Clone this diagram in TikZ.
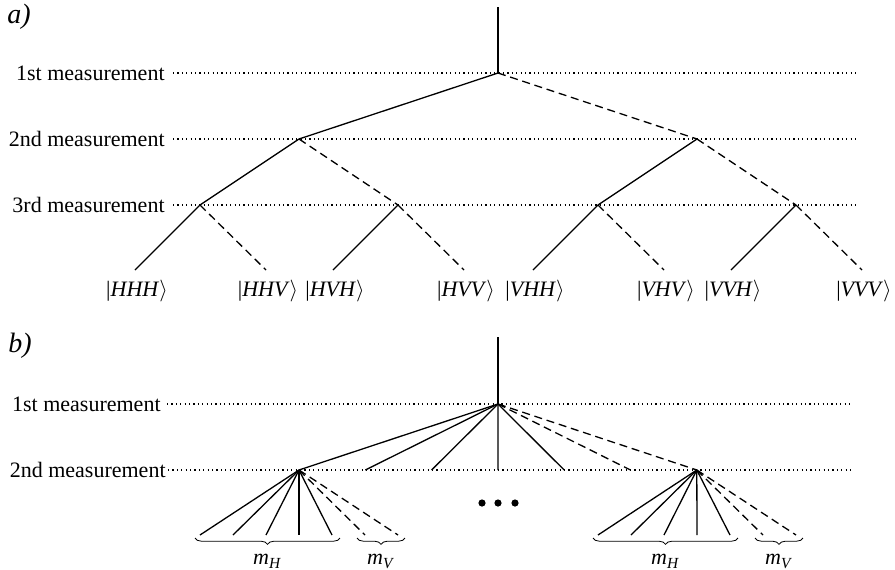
\documentclass[tikz,border=0pt]{standalone}
\usepackage{fontspec}
\setmainfont{Liberation Serif}
\usepackage{tikz}
\usetikzlibrary{positioning,decorations.pathreplacing}
\tikzset{
  lvl/.style={font=\fontsize{11}{13}\selectfont,anchor=east,inner sep=0pt},
  ket/.style={font=\fontsize{11}{13}\selectfont,inner sep=0pt},
  tag/.style={font=\fontsize{14}{16}\selectfont\itshape,anchor=west,inner sep=0pt},
  guide/.style={line width=0.6pt,dash pattern=on 0.6pt off 1.6pt},
  hpath/.style={line width=0.65pt},
  vpath/.style={line width=0.65pt,dash pattern=on 4pt off 2.4pt},
  grp/.style={decorate,decoration={brace,mirror,amplitude=3.2pt},line width=0.4pt}
}

\begin{document}
\begin{tikzpicture}[x=0.5pt,y=-0.5pt]
  \useasboundingbox (0,0) rectangle (895,569);
  % a)
  \node[tag] (pa) at (7,17) {a)};
  \foreach \i/\lab/\y/\gap in {1/1st/73/4pt,2/2nd/139/4pt,3/3rd/205/4pt} {
    \node[lvl] (a\i) at (165,\y) {\lab{} measurement};
    \coordinate (a\i e) at (859,\y);
    \draw[guide] ([xshift=\gap]a\i.east) -- (a\i e);
  }
  \coordinate (r) at (498,7);
  \coordinate (n) at (498,73);
  \coordinate (nH) at (299,139);
  \coordinate (nV) at (697,139);
  \draw[hpath] (r) -- (n);
  \draw[hpath] (n) -- (nH);
  \draw[vpath] (n) -- (nV);
  \foreach \p/\x in {HH/200,HV/398,VH/598,VV/796} {
    \coordinate (n\p) at (\x,205);
    \coordinate (l\p H) at (\x-65,270);
    \coordinate (l\p V) at (\x+66,270);
    \node[ket,below=5pt of l\p H,xshift=1pt] (k\p H) {|\textit{\p H}$\rangle$};
    \node[ket,below=5pt of l\p V,xshift=1pt] (k\p V) {|\textit{\p V}$\rangle$};
    \draw[hpath] (n\p) -- (l\p H);
    \draw[vpath] (n\p) -- (l\p V);
  }
  \draw[hpath] (nH) -- (nHH);
  \draw[vpath] (nH) -- (nHV);
  \draw[hpath] (nV) -- (nVH);
  \draw[vpath] (nV) -- (nVV);
  % b)
  \node[tag] (pb) at (8,346) {b)};
  \node[lvl] (b1) at (161,404) {1st measurement};
  \node[lvl] (b2) at (166,470) {2nd measurement};
  \coordinate (b1e) at (853,404);
  \coordinate (b2e) at (853,470);
  \draw[guide] ([xshift=3pt]b1.east) -- (b1e);
  \draw[guide] ([xshift=1pt]b2.east) -- (b2e);
  \coordinate (R) at (498,337);
  \coordinate (N) at (498,404);
  \draw[hpath] (R) -- (N);
  \foreach \k in {0,...,6} {
    \coordinate (c\k) at (299+66.3*\k,470);
  }
  \foreach \k in {0,...,4} \draw[hpath] (N) -- (c\k);
  \foreach \k in {5,6} \draw[vpath] (N) -- (c\k);
  \foreach \s/\x/\c in {L/299/0,R/697/6} {
    \foreach \j in {0,...,6} \coordinate (f\s\j) at (\x-99+33*\j,535);
    \foreach \j in {0,...,4} \draw[hpath] (c\c) -- (f\s\j);
    \foreach \j in {5,6} \draw[vpath] (c\c) -- (f\s\j);
    \coordinate (gH\s a) at (\x-104,538);
    \coordinate (gH\s b) at (\x+41,538);
    \coordinate (gV\s a) at (\x+58,538);
    \coordinate (gV\s b) at (\x+106,538);
    \draw[grp] (gH\s a) -- (gH\s b) node[ket,midway,below=8pt] (mH\s) {\textit{m}\textsubscript{\textit{H}}};
    \draw[grp] (gV\s a) -- (gV\s b) node[ket,midway,below=8pt] (mV\s) {\textit{m}\textsubscript{\textit{V}}};
  }
  \foreach \x in {482,498,515} \fill (\x,503) circle (1.8pt);
\end{tikzpicture}
\end{document}
